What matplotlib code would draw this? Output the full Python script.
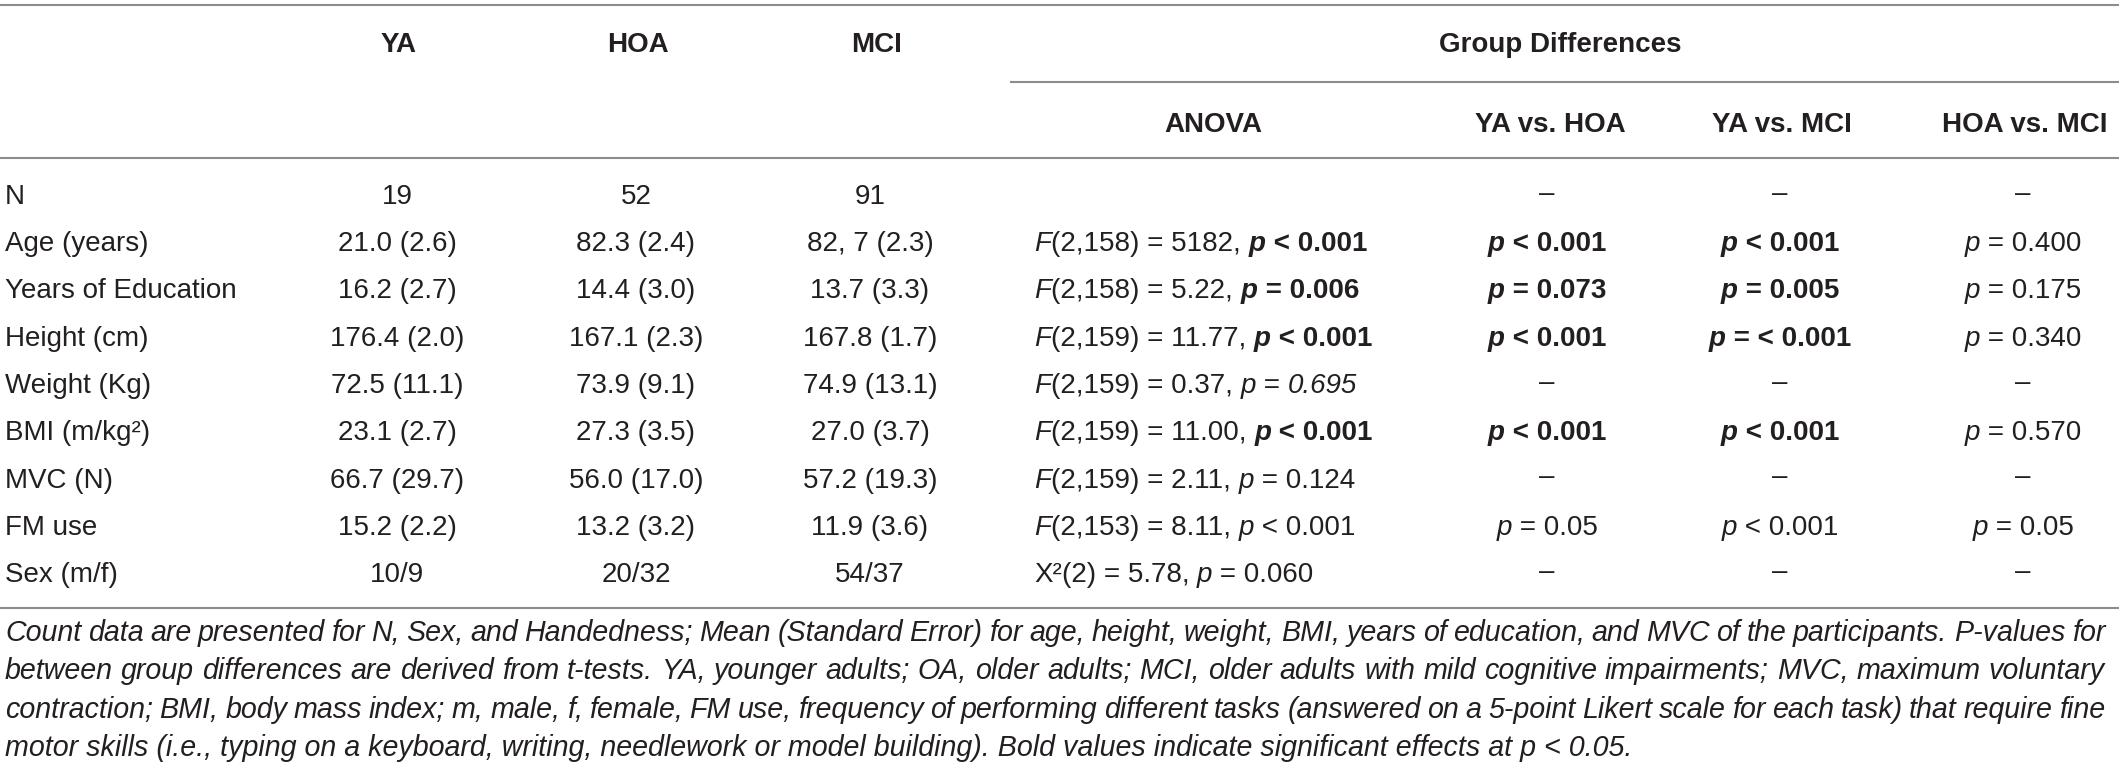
import matplotlib
matplotlib.use("Agg")
import matplotlib.pyplot as plt

plt.rcParams['font.family'] = ['Liberation Sans', 'DejaVu Sans']

# table content
row_labels = ["N", "Age (years)", "Years of Education", "Height (cm)", "Weight (Kg)",
              "BMI (m/kg²)", "MVC (N)", "FM use", "Sex (m/f)"]
ya_vals = ["19", "21.0 (2.6)", "16.2 (2.7)", "176.4 (2.0)", "72.5 (11.1)",
           "23.1 (2.7)", "66.7 (29.7)", "15.2 (2.2)", "10/9"]
hoa_vals = ["52", "82.3 (2.4)", "14.4 (3.0)", "167.1 (2.3)", "73.9 (9.1)",
            "27.3 (3.5)", "56.0 (17.0)", "13.2 (3.2)", "20/32"]
mci_vals = ["91", "82, 7 (2.3)", "13.7 (3.3)", "167.8 (1.7)", "74.9 (13.1)",
            "27.0 (3.7)", "57.2 (19.3)", "11.9 (3.6)", "54/37"]

anova_stat = [None, "F", "F", "F", "F", "F", "F", "F", "X²"]
anova_df = [None, "2,158", "2,158", "2,159", "2,159", "2,159", "2,159", "2,153", "2"]
anova_val = [None, "5182", "5.22", "11.77", "0.37", "11.00", "2.11", "8.11", "5.78"]
anova_p = [None, "< 0.001", "= 0.006", "< 0.001", "= 0.695", "< 0.001", "= 0.124", "< 0.001", "= 0.060"]
anova_style = [None, "bold", "bold", "bold", "italic", "bold", "plain", "plain", "plain"]

ya_vs_hoa = [None, "< 0.001", "= 0.073", "< 0.001", None, "< 0.001", None, "= 0.05", None]
ya_vs_hoa_sig = [False, True, True, True, False, True, False, False, False]
ya_vs_mci = [None, "< 0.001", "= 0.005", "= < 0.001", None, "< 0.001", None, "< 0.001", None]
ya_vs_mci_sig = [False, True, True, True, False, True, False, False, False]
hoa_vs_mci = [None, "= 0.400", "= 0.175", "= 0.340", None, "= 0.570", None, "= 0.05", None]
hoa_vs_mci_sig = [False] * 9

caption_lines = [
    "Count data are presented for N, Sex, and Handedness; Mean (Standard Error) for age, height, weight, BMI, years of education, and MVC of the participants. P-values for",
    "between group differences are derived from t-tests. YA, younger adults; OA, older adults; MCI, older adults with mild cognitive impairments; MVC, maximum voluntary",
    "contraction; BMI, body mass index; m, male, f, female, FM use, frequency of performing different tasks (answered on a 5-point Likert scale for each task) that require fine",
    "motor skills (i.e., typing on a keyboard, writing, needlework or model building). Bold values indicate significant effects at p < 0.05.",
]

W, H = 2119, 769
FS = 20
CAP_FS = 20.6
INK = '#231f20'
RULE = '#8c8c8c'

fig = plt.figure(figsize=(W / 100, H / 100), dpi=100)
ax = fig.add_axes([0, 0, 1, 1])
ax.set_xlim(0, W)
ax.set_ylim(H, 0)
ax.axis('off')
renderer = fig.canvas.get_renderer()

_bar = {}


def text_width(s, weight='normal', style='normal', size=FS):
    key = (weight, style, size)
    if key not in _bar:
        t = ax.text(0, 0, "|", fontsize=size, fontweight=weight, fontstyle=style)
        _bar[key] = t.get_window_extent(renderer).width
        t.remove()
    t = ax.text(0, 0, s + "|", fontsize=size, fontweight=weight, fontstyle=style)
    w = t.get_window_extent(renderer).width
    t.remove()
    return w - _bar[key]


def draw_runs(x, y, runs, ha='left', size=FS):
    widths = [text_width(s, wt, st, size) for s, wt, st in runs]
    x0 = x - sum(widths) / 2 if ha == 'center' else x
    for (s, wt, st), w in zip(runs, widths):
        ax.text(x0, y, s, fontsize=size, fontweight=wt, fontstyle=st,
                va='baseline', ha='left', color=INK)
        x0 += w


def p_runs(rest, sig):
    wt = 'bold' if sig else 'normal'
    return [("p", wt, 'italic'), (" " + rest, wt, 'normal')]


# rules
ax.plot([0, W], [5, 5], color=RULE, lw=1.5)
ax.plot([1011, W], [82, 82], color=RULE, lw=1.5)
ax.plot([0, W], [158, 158], color=RULE, lw=1.5)
ax.plot([0, W], [608, 608], color=RULE, lw=1.5)

# header
for name, cx in [("YA", 399), ("HOA", 638), ("MCI", 877), ("Group Differences", 1560)]:
    ax.text(cx, 52, name, fontsize=FS, fontweight='bold', ha='center', va='baseline', color=INK)
for name, cx in [("ANOVA", 1213), ("YA vs. HOA", 1550), ("YA vs. MCI", 1782), ("HOA vs. MCI", 2025)]:
    ax.text(cx, 132, name, fontsize=FS, fontweight='bold', ha='center', va='baseline', color=INK)

# body
for i, label in enumerate(row_labels):
    y = 204 + 47.25 * i
    ax.text(5, y, label, fontsize=FS, ha='left', va='baseline', color=INK)
    for vals, cx in [(ya_vals, 397), (hoa_vals, 636), (mci_vals, 870)]:
        ax.text(cx, y, vals[i], fontsize=FS, ha='center', va='baseline', color=INK)

    if anova_stat[i] is not None:
        stat_style = 'italic' if anova_stat[i] == "F" else 'normal'
        runs = [(anova_stat[i], 'normal', stat_style),
                (f"({anova_df[i]}) = {anova_val[i]}, ", 'normal', 'normal')]
        op, pv = anova_p[i].split(" ", 1)
        if anova_style[i] == 'italic':
            runs += [("p", 'normal', 'italic'), (f" {op} ", 'normal', 'normal'), (pv, 'normal', 'italic')]
        else:
            runs += p_runs(anova_p[i], anova_style[i] == 'bold')
        draw_runs(1034, y, runs)

    for vals, sig, cx in [(ya_vs_hoa, ya_vs_hoa_sig, 1547),
                          (ya_vs_mci, ya_vs_mci_sig, 1780),
                          (hoa_vs_mci, hoa_vs_mci_sig, 2023)]:
        if vals[i] is None:
            ax.text(cx, y - 10, "–", fontsize=FS, ha='center', va='center', color=INK)
        else:
            draw_runs(cx, y, p_runs(vals[i], sig[i]), ha='center')

# caption, first lines justified
for j, line in enumerate(caption_lines):
    y = 641 + 38.3 * j
    if j < len(caption_lines) - 1:
        words = line.split(" ")
        ws = [text_width(w, 'normal', 'italic', CAP_FS) for w in words]
        gap = (2105 - 5 - sum(ws)) / (len(words) - 1)
        x = 5
        for w, wd in zip(words, ws):
            ax.text(x, y, w, fontsize=CAP_FS, fontstyle='italic', ha='left', va='baseline', color=INK)
            x += wd + gap
    else:
        ax.text(5, y, line, fontsize=CAP_FS, fontstyle='italic', ha='left', va='baseline', color=INK)

fig.savefig("out.png", dpi=100)
